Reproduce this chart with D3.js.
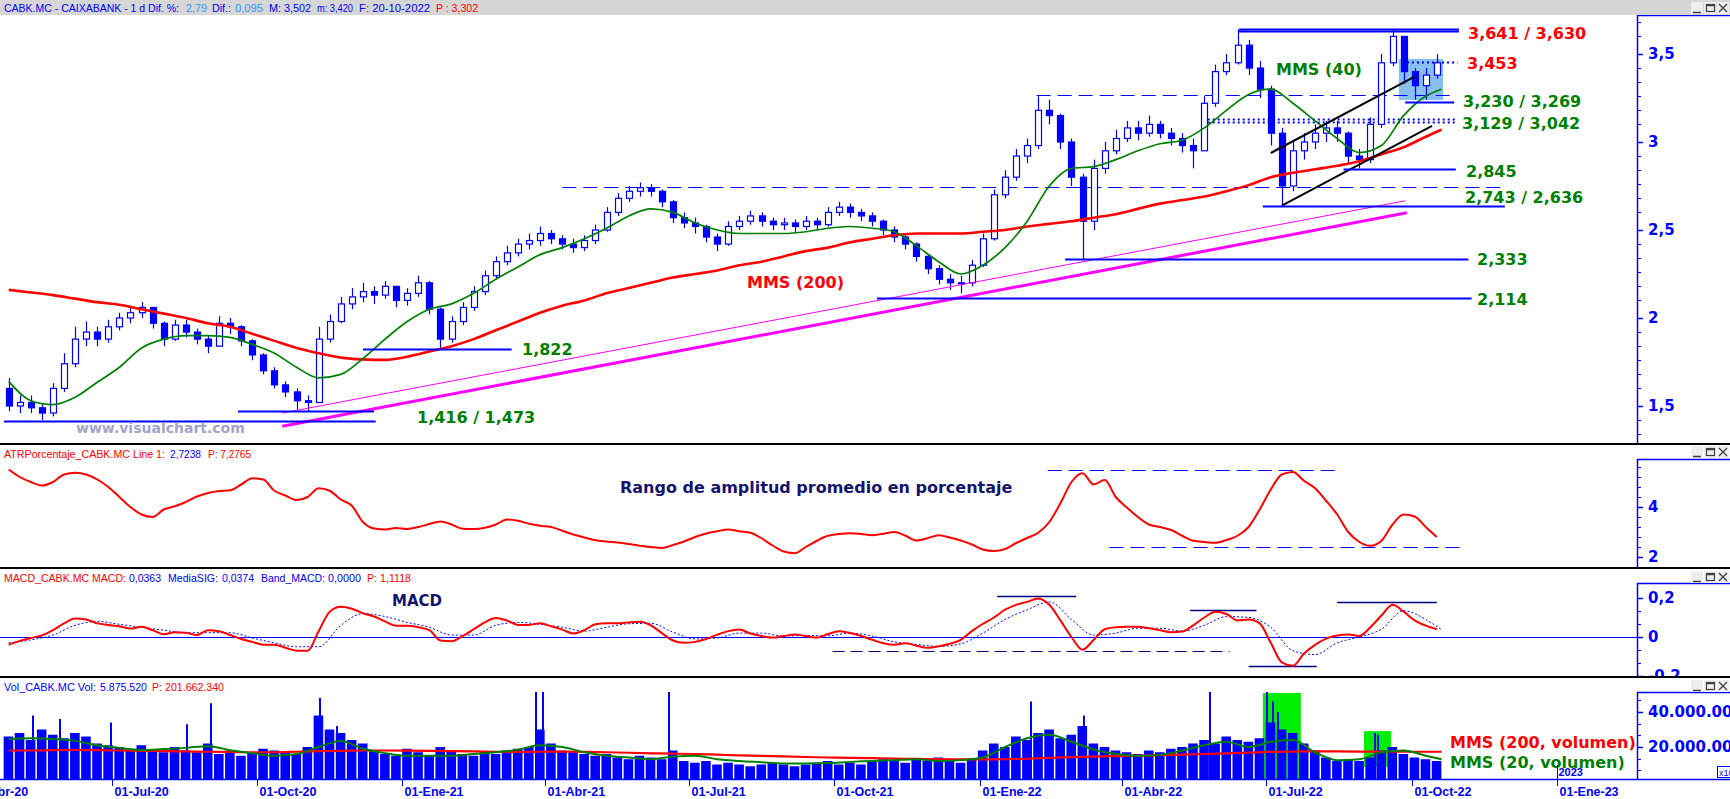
<!DOCTYPE html>
<html><head><meta charset="utf-8">
<script src="https://cdn.jsdelivr.net/npm/d3@7/dist/d3.min.js"></script>
<style>html,body{margin:0;padding:0;background:#fff;overflow:hidden}svg{display:block}</style>
</head><body>
<svg id="chart" width="1730" height="799"></svg>
<script>
// ---------------- DATA ----------------
const startWeek = "2020-04-27";
const lastDate = "2022-10-20";
const firstOpen = 1.60;
const candleClose = [
1.50,1.52,1.49,1.46,1.60,1.74,1.88,1.92,1.88,1.95,
2.00,2.03,2.06,1.97,1.88,1.96,1.92,1.88,1.84,1.97,
1.95,1.87,1.79,1.70,1.62,1.58,1.53,1.52,1.88,1.98,
2.08,2.12,2.15,2.13,2.18,2.10,2.14,2.20,2.05,1.88,
1.98,2.06,2.15,2.24,2.32,2.37,2.42,2.44,2.48,2.45,
2.42,2.40,2.44,2.50,2.60,2.68,2.72,2.74,2.72,2.66,
2.57,2.54,2.52,2.46,2.42,2.52,2.55,2.58,2.55,2.53,
2.54,2.52,2.55,2.53,2.60,2.63,2.60,2.58,2.55,2.50,
2.46,2.42,2.35,2.28,2.22,2.20,2.20,2.30,2.45,2.70,
2.80,2.92,2.98,3.18,3.15,3.00,2.80,2.55,2.85,2.95,
3.02,3.08,3.05,3.10,3.05,3.02,2.98,2.95,3.22,3.40,
3.45,3.55,3.42,3.30,3.05,2.75,2.95,3.00,3.05,3.08,
3.05,2.92,2.90,3.10,3.45,3.60,3.40,3.32,3.38,3.45];
const candleHigh = [
1.66,1.56,1.56,1.51,1.63,1.80,1.95,1.98,1.95,1.99,
2.03,2.06,2.09,2.06,1.98,1.99,1.99,1.94,1.90,2.01,
2.00,1.96,1.88,1.80,1.72,1.64,1.60,1.56,1.95,2.02,
2.12,2.17,2.20,2.18,2.21,2.18,2.17,2.24,2.21,2.06,
2.01,2.09,2.18,2.27,2.35,2.41,2.45,2.48,2.52,2.50,
2.47,2.45,2.47,2.53,2.63,2.71,2.75,2.77,2.76,2.73,
2.67,2.60,2.57,2.53,2.48,2.55,2.58,2.61,2.60,2.57,
2.57,2.56,2.58,2.57,2.63,2.66,2.65,2.62,2.60,2.56,
2.52,2.48,2.43,2.36,2.30,2.25,2.24,2.33,2.48,2.73,
2.84,2.96,3.02,3.26,3.24,3.16,3.02,2.82,2.90,3.00,
3.07,3.12,3.12,3.15,3.12,3.08,3.05,3.02,3.26,3.44,
3.50,3.64,3.58,3.46,3.32,3.08,3.00,3.05,3.10,3.12,
3.12,3.06,2.96,3.14,3.50,3.64,3.60,3.42,3.42,3.50];
const candleLow = [
1.47,1.46,1.46,1.42,1.44,1.58,1.72,1.84,1.84,1.86,
1.93,1.97,2.00,1.94,1.84,1.87,1.89,1.85,1.80,1.84,
1.91,1.84,1.76,1.68,1.60,1.55,1.48,1.47,1.52,1.86,
1.97,2.05,2.09,2.08,2.11,2.06,2.07,2.12,2.02,1.82,
1.86,1.96,2.04,2.13,2.22,2.30,2.35,2.39,2.41,2.42,
2.39,2.37,2.38,2.42,2.49,2.58,2.66,2.69,2.69,2.63,
2.54,2.51,2.48,2.43,2.38,2.41,2.50,2.53,2.52,2.50,
2.50,2.49,2.50,2.50,2.52,2.58,2.57,2.55,2.52,2.47,
2.43,2.39,2.32,2.25,2.19,2.16,2.14,2.18,2.29,2.44,
2.68,2.78,2.88,2.96,3.10,2.96,2.75,2.33,2.50,2.82,
2.93,3.00,3.01,3.03,3.02,2.98,2.94,2.85,2.95,3.20,
3.38,3.44,3.38,3.25,2.98,2.64,2.72,2.90,2.96,3.00,
3.00,2.88,2.85,2.88,3.08,3.43,3.33,3.24,3.24,3.36];
// two-week samples (last one = lastDate)
const mms40 = [
1.64,1.53,1.508,1.55,1.635,1.72,1.83,1.88,1.90,1.90,
1.89,1.85,1.80,1.72,1.66,1.68,1.77,1.88,1.98,2.05,
2.08,2.14,2.22,2.29,2.36,2.40,2.45,2.51,2.58,2.62,
2.60,2.54,2.50,2.48,2.48,2.48,2.49,2.51,2.52,2.51,
2.49,2.41,2.32,2.25,2.30,2.40,2.55,2.75,2.85,2.86,
2.90,2.95,2.99,3.01,3.08,3.18,3.27,3.30,3.22,3.12,
3.02,2.94,2.98,3.15,3.26,3.30];
const mms200 = [
2.16,2.145,2.13,2.11,2.09,2.075,2.05,2.025,2.00,1.97,
1.95,1.91,1.87,1.83,1.80,1.775,1.765,1.762,1.78,1.81,
1.84,1.88,1.93,1.98,2.03,2.07,2.10,2.14,2.17,2.20,
2.23,2.25,2.27,2.30,2.32,2.35,2.38,2.40,2.43,2.45,
2.47,2.48,2.48,2.48,2.49,2.50,2.52,2.535,2.55,2.57,
2.59,2.62,2.65,2.67,2.69,2.72,2.755,2.80,2.825,2.845,
2.865,2.89,2.93,2.97,3.03,3.07];
const atrPct = [
5.5,5.2,5.0,4.86,5.0,5.3,5.37,5.3,5.1,4.8,
4.4,4.0,3.7,3.6,3.9,4.03,4.2,4.42,4.56,4.64,
4.67,4.9,5.15,5.1,4.65,4.46,4.28,4.4,4.75,4.65,
4.3,4.05,3.4,3.14,3.1,3.16,3.12,3.2,3.32,3.42,
3.3,3.13,3.12,3.17,3.3,3.5,3.45,3.33,3.25,3.2,
3.05,2.9,2.78,2.67,2.62,2.58,2.52,2.45,2.4,2.36,
2.48,2.62,2.8,2.94,3.03,3.1,3.03,2.97,2.75,2.46,
2.22,2.15,2.4,2.65,2.85,2.92,2.95,2.92,2.87,2.93,
3.0,2.85,2.66,2.75,2.87,2.78,2.66,2.5,2.3,2.24,
2.32,2.56,2.76,2.97,3.4,4.15,5.0,5.35,4.9,5.08,
4.4,3.98,3.6,3.3,3.2,3.08,2.85,2.65,2.6,2.57,
2.68,2.85,3.2,3.9,4.7,5.3,5.4,5.05,4.75,4.25,
3.7,3.0,2.6,2.45,2.65,3.3,3.7,3.62,3.2,2.8];
const macdLine = [
-0.04,-0.02,-0.005,0.008,0.035,0.07,0.095,0.09,0.07,0.062,
0.055,0.043,0.052,0.035,0.014,0.025,0.022,0.01,0.035,0.03,
0.01,-0.01,-0.025,-0.04,-0.04,-0.055,-0.07,-0.07,0.03,0.13,
0.155,0.145,0.122,0.105,0.08,0.058,0.058,0.05,0.035,-0.018,
-0.022,0.005,0.04,0.075,0.098,0.085,0.062,0.062,0.07,0.055,
0.038,0.018,0.035,0.065,0.07,0.07,0.075,0.078,0.06,0.02,
-0.018,-0.03,-0.025,-0.01,0.012,0.03,0.038,0.018,0.005,-0.003,
0.005,0.013,0.005,-0.003,0.015,0.03,0.02,0.005,-0.014,-0.032,
-0.04,-0.032,-0.045,-0.055,-0.048,-0.035,-0.015,0.03,0.068,0.1,
0.14,0.165,0.18,0.198,0.165,0.085,0.0,-0.065,-0.015,0.04,
0.05,0.053,0.053,0.045,0.035,0.025,0.028,0.06,0.1,0.13,
0.118,0.085,0.09,0.07,-0.03,-0.13,-0.148,-0.085,-0.04,-0.008,
0.008,0.013,0.005,0.05,0.11,0.165,0.13,0.085,0.058,0.04];
const macdSignal = [
-0.03,-0.015,0.01,0.06,0.08,0.065,0.05,0.035,0.022,0.022,
0.022,-0.005,-0.03,-0.05,-0.05,0.06,0.12,0.105,0.075,0.05,
0.01,0.01,0.06,0.075,0.065,0.05,0.03,0.05,0.068,0.07,
0.025,-0.01,-0.005,0.02,0.02,0.005,0.008,0.006,0.02,0.005,
-0.025,-0.038,-0.048,-0.035,0.02,0.09,0.14,0.18,0.09,0.01,
0.02,0.045,0.045,0.03,0.06,0.105,0.1,0.05,-0.07,-0.09,
-0.03,0.0,0.04,0.135,0.09,0.037];
const volumeWeekly = [ // millions of shares, weekly level
26,28,24,30,27,25,28,26,22,21,20,
19,21,18,17,20,18,17,22,16,18,15,17,19,18,17,16,20,
38,30,28,24,22,18,
16,15,19,17,15,20,18,16,15,17,16,18,19,20,
30,22,18,
17,16,15,16,14,13,15,14,13,
18,
12,11,12,10,11,10,9,10,11,10,9,10,11,12,10,11,10,12,13,12,11,13,12,14,12,11,13,
18,22,20,26,24,28,30,25,27,32,
22,20,18,17,16,18,17,19,20,22,24,22,26,24,23,
25,34,30,28,22,18,
14,12,13,12,14,18,20,16,14,13,12];
const volSpikeDates = ["2020-05-12","2020-05-29","2020-06-30","2020-08-17","2020-09-01","2020-11-09","2020-11-20","2021-03-26","2021-03-30","2021-06-18","2022-02-02","2022-03-07","2022-05-26","2022-07-01","2022-07-05","2022-07-08","2022-09-07","2022-09-09"];
const volSpikeValues = [38,36,34,33,45,48,32,60,60,60,46,38,52,60,46,40,28,27];
const volMA200 = [
18,18,18.2,18.3,18.2,18,17.8,17.6,17.5,17.3,
17.2,17,17,17.3,17.6,17.8,18,18,17.9,17.8,
17.7,17.5,17.3,17.2,17.3,17.4,17.2,17,16.7,16.4,
16.2,16,15.6,15.2,14.9,14.6,14.3,14,13.8,13.6,
13.4,13.2,13,12.9,12.9,13,13.3,13.8,14.2,14.5,
14.8,15,15.3,15.6,16,16.4,16.8,17.2,17.4,17.5,
17.5,17.4,17.3,17.3,17.3,17.3];
const volMA20 = [
24.5,25,24.5,23.5,21,19.5,18.2,18.8,19.5,20.5,
18.2,16.5,15,16,20,23.5,19,16.5,15,15,
15,16,17,18.5,21,20,17,15,14,13,
14.5,15,13,12,11.3,10.6,10.6,10.8,11.5,12,
12.5,13,12,12.5,14,20,25,27,23,18.5,
16,15,15.5,18,21,23,20,23,24,17,
12.5,13,17,18,15,13];
// support / resistance levels
const levelValue = [3.641,3.630,3.453,3.269,3.230,3.129,3.112,2.845,2.743,2.636,2.333,2.114,1.822,1.473,1.416];
const levelFrom = ["2022-06-14","2022-06-14","2022-09-25","2022-02-06","2022-09-27","2022-05-22","2022-05-22","2022-08-19","2021-04-12","2022-06-29","2022-02-24","2021-10-28","2020-12-07","2020-09-19","2020-04-24"];
const levelTo = ["2022-10-31","2022-10-31","2022-10-30","2022-10-28","2022-10-28","2022-10-29","2022-10-29","2022-10-29","2022-11-27","2022-11-29","2022-11-06","2022-11-08","2021-03-11","2020-12-14","2020-12-15"];
const levelLabels = ["3,641 / 3,630","3,453","3,230 / 3,269","3,129 / 3,042","2,845","2,743 / 2,636","2,333","2,114","1,822","1,416 / 1,473"];
// trend lines
const trendFrom = ["2020-10-17","2020-10-17","2022-07-04","2022-07-11"];
const trendTo = ["2022-09-27","2022-09-28","2022-10-03","2022-10-14"];
const trendP0 = [1.46,1.385,2.9375,2.638];
const trendP1 = [2.666,2.598,3.371,3.091];
const zoneDates = ["2022-09-23","2022-10-21"];
const zonePrices = [3.239,3.472];
const volBoxFrom = ["2022-06-29","2022-09-01"];
const volBoxTo = ["2022-07-23","2022-09-18"];
const volBoxLow = [0,8.6];
const volBoxHigh = [50.9,29.1];
const atrLevels = [5.48,2.4];
const atrLevelFrom = ["2022-02-13","2022-03-24"];
const atrLevelTo = ["2022-08-16","2022-11-04"];
const macdLevels = [0.21,0.138,0.178,-0.15,-0.071];
const macdLevelFrom = ["2022-01-12","2022-05-14","2022-08-15","2022-06-20","2021-09-30"];
const macdLevelTo = ["2022-03-03","2022-06-25","2022-10-17","2022-08-02","2022-06-08"];
const priceTicks = [1.5,2,2.5,3,3.5];
const atrTicks = [2,4];
const macdTicks = [-0.2,0,0.2];
const volTicks = [20e6,40e6];
const monthNames = {0:"Ene",3:"Abr",6:"Jul",9:"Oct"};

// ---------------- SETUP ----------------
const BLUE="#0000ff", RED="#ff0000", GREEN="#008000", NAVY="#14146e", MAG="#ff00ff";
const svg = d3.select("#chart");
const parse = d3.timeParse("%Y-%m-%d");
const AX = 1637, W = 1730;
const x = d3.scaleTime().domain([parse("2020-10-01"), parse("2023-01-01")]).range([257,1557]);
const yP = d3.scaleLinear().domain([1.5,3.5]).range([406,54]);
const yA = d3.scaleLinear().domain([2,4]).range([557,507]);
const yM = d3.scaleLinear().domain([0,0.2]).range([637,598]);
const yV = d3.scaleLinear().domain([0,40e6]).range([782,712]);
const P = {main:[15,444], atr:[459,568], macd:[583,677], vol:[692,779]};
const w0 = parse(startWeek);
const weekDates = candleClose.map((_,i)=>d3.timeDay.offset(w0,7*i));
const biDates = mms40.map((_,k)=> k<mms40.length-1 ? d3.timeDay.offset(w0,14*k) : parse(lastDate));
const loc = d3.formatLocale({decimal:",",thousands:".",grouping:[3],currency:["","€"]});
const fmtVol = loc.format(",");
const fmtDec = v => String(Math.round(v*1000)/1000).replace(".",",");

svg.append("rect").attr("width",W).attr("height",799).attr("fill","#fff");
const defs = svg.append("defs");
Object.entries(P).forEach(([k,[t,b]])=>{
  defs.append("clipPath").attr("id","clip-"+k).append("rect").attr("x",0).attr("y",t).attr("width",AX).attr("height",b-t);
});
const gMain = svg.append("g").attr("clip-path","url(#clip-main)");
const gAtr = svg.append("g").attr("clip-path","url(#clip-atr)");
const gMacd = svg.append("g").attr("clip-path","url(#clip-macd)");
const gVol = svg.append("g").attr("clip-path","url(#clip-vol)");

// ---------------- MAIN PANEL ----------------
gMain.append("rect").attr("x",x(parse(zoneDates[0]))).attr("width",x(parse(zoneDates[1]))-x(parse(zoneDates[0])))
  .attr("y",yP(zonePrices[1])).attr("height",yP(zonePrices[0])-yP(zonePrices[1])).attr("fill","#86bff0");

const levelStyle = ["solid","solid","dotted","dashed","solid","dotted","dotted","solid","dashed","solid","solid","solid","solid","solid","solid"];
const drawLevels = (g, vals, from, to, ys, styles, col) => {
  g.selectAll(null).data(vals).join("line")
    .attr("x1",(d,i)=>x(parse(from[i]))).attr("x2",(d,i)=>x(parse(to[i])))
    .attr("y1",d=>Math.round(ys(d))+0.5).attr("y2",d=>Math.round(ys(d))+0.5)
    .attr("stroke",col)
    .attr("stroke-width",(d,i)=>styles[i]==="solid"?2:(styles[i]==="dotted"?2:1))
    .attr("stroke-dasharray",(d,i)=>styles[i]==="dashed"?"14,7":(styles[i]==="dotted"?"2,3":null));
};
const idxBack = levelValue.map((v,i)=>i).filter(i=>levelStyle[i]!=="solid");
drawLevels(gMain, idxBack.map(i=>levelValue[i]), idxBack.map(i=>levelFrom[i]), idxBack.map(i=>levelTo[i]), yP, idxBack.map(i=>levelStyle[i]), BLUE);

// candles
const cw = 6;
const candles = gMain.append("g").selectAll("g").data(weekDates).join("g");
candles.append("line")
  .attr("x1",d=>Math.round(x(d))+0.5).attr("x2",d=>Math.round(x(d))+0.5)
  .attr("y1",(d,i)=>yP(candleHigh[i])).attr("y2",(d,i)=>yP(candleLow[i]))
  .attr("stroke",BLUE).attr("stroke-width",1.2);
candles.append("rect")
  .attr("x",d=>Math.round(x(d))-cw/2+0.5)
  .attr("y",(d,i)=>{const o=i?candleClose[i-1]:firstOpen;return yP(Math.max(o,candleClose[i]));})
  .attr("width",cw)
  .attr("height",(d,i)=>{const o=i?candleClose[i-1]:firstOpen;return Math.max(1,Math.abs(yP(o)-yP(candleClose[i])));})
  .attr("fill",(d,i)=>{const o=i?candleClose[i-1]:firstOpen;return candleClose[i]>=o?"#fff":BLUE;})
  .attr("stroke",BLUE).attr("stroke-width",1.2);

const lineP = (arr)=>d3.line().x((d,i)=>x(biDates[i])).y(d=>yP(d)).curve(d3.curveMonotoneX)(arr);
gMain.append("path").attr("d",lineP(mms200)).attr("fill","none").attr("stroke",RED).attr("stroke-width",2.6);
gMain.append("path").attr("d",lineP(mms40)).attr("fill","none").attr("stroke",GREEN).attr("stroke-width",1.7);

const trendColor=[MAG,MAG,"#000","#000"], trendW=[1,3,2,2];
gMain.selectAll(null).data(trendP0).join("line")
  .attr("x1",(d,i)=>x(parse(trendFrom[i]))).attr("y1",d=>yP(d))
  .attr("x2",(d,i)=>x(parse(trendTo[i]))).attr("y2",(d,i)=>yP(trendP1[i]))
  .attr("stroke",(d,i)=>trendColor[i]).attr("stroke-width",(d,i)=>trendW[i]);

const idxFront = levelValue.map((v,i)=>i).filter(i=>levelStyle[i]==="solid");
drawLevels(gMain, idxFront.map(i=>levelValue[i]), idxFront.map(i=>levelFrom[i]), idxFront.map(i=>levelTo[i]), yP, idxFront.map(i=>"solid"), BLUE);

const LBL = "bold 16px 'DejaVu Sans'";
const labelPos = [[1468,33,RED],[1467,63,RED],[1463,101,GREEN],[1462,123,GREEN],[1466,171,GREEN],[1465,197,GREEN],[1477,259,GREEN],[1477,299,GREEN],[522,349,GREEN],[417,417,GREEN]];
svg.selectAll(null).data(levelLabels).join("text")
  .attr("x",(d,i)=>labelPos[i][0]).attr("y",(d,i)=>labelPos[i][1]).attr("dy","0.36em")
  .attr("fill",(d,i)=>labelPos[i][2]).style("font",LBL).text(d=>d);
const txt = (x0,y0,t,col,font)=>svg.append("text").attr("x",x0).attr("y",y0).attr("dy","0.36em").attr("fill",col).style("font",font).text(t);
txt(1276,69,"MMS (40)",GREEN,LBL);
txt(747,282,"MMS (200)",RED,LBL);
txt(76,428,"www.visualchart.com","#a4a4cc","bold 14px 'DejaVu Sans'");

// ---------------- ATR ----------------
drawLevels(gAtr, atrLevels, atrLevelFrom, atrLevelTo, yA, ["dashed","dashed"], BLUE);
gAtr.append("path").attr("d",d3.line().x((d,i)=>x(weekDates[i])).y(d=>yA(d)).curve(d3.curveMonotoneX)(atrPct))
  .attr("fill","none").attr("stroke",RED).attr("stroke-width",2);
txt(620,487,"Rango de amplitud promedio en porcentaje",NAVY,LBL);

// ---------------- MACD ----------------
gMacd.append("line").attr("x1",0).attr("x2",AX).attr("y1",yM(0)+0.5).attr("y2",yM(0)+0.5).attr("stroke",BLUE).attr("stroke-width",1);
gMacd.selectAll(null).data(macdLevels).join("line")
  .attr("x1",(d,i)=>x(parse(macdLevelFrom[i]))).attr("x2",(d,i)=>x(parse(macdLevelTo[i])))
  .attr("y1",d=>Math.round(yM(d))+0.5).attr("y2",d=>Math.round(yM(d))+0.5)
  .attr("stroke","#000080").attr("stroke-width",(d,i)=>i<4?1.5:1)
  .attr("stroke-dasharray",(d,i)=>i<4?null:"12,6");
gMacd.append("path").attr("d",d3.line().x((d,i)=>x(biDates[i])).y(d=>yM(d)).curve(d3.curveMonotoneX)(macdSignal))
  .attr("fill","none").attr("stroke",BLUE).attr("stroke-width",1).attr("stroke-dasharray","2,2");
gMacd.append("path").attr("d",d3.line().x((d,i)=>x(weekDates[i])).y(d=>yM(d)).curve(d3.curveMonotoneX)(macdLine))
  .attr("fill","none").attr("stroke",RED).attr("stroke-width",2);
txt(392,601,"MACD",NAVY,"bold 15px 'DejaVu Sans'");

// ---------------- VOLUME ----------------
gVol.selectAll(null).data(volBoxFrom).join("rect")
  .attr("x",d=>x(parse(d))).attr("width",(d,i)=>x(parse(volBoxTo[i]))-x(parse(d)))
  .attr("y",(d,i)=>yV(volBoxHigh[i]*1e6)).attr("height",(d,i)=>yV(volBoxLow[i]*1e6)-yV(volBoxHigh[i]*1e6))
  .attr("fill","#00ee00");
const slot = x(d3.timeDay.offset(w0,7))-x(w0);
gVol.selectAll(null).data(volumeWeekly).join("rect")
  .attr("x",(d,i)=>x(weekDates[i])-slot/2+0.5).attr("width",slot-1.5)
  .attr("y",d=>yV(d*1e6)).attr("height",d=>782-yV(d*1e6)).attr("fill",BLUE);
gVol.selectAll(null).data(volSpikeValues).join("rect")
  .attr("x",(d,i)=>Math.round(x(parse(volSpikeDates[i])))).attr("width",2)
  .attr("y",d=>yV(d*1e6)).attr("height",d=>782-yV(d*1e6)).attr("fill",BLUE);
const lineV = arr=>d3.line().x((d,i)=>x(biDates[i])).y(d=>yV(d*1e6)).curve(d3.curveMonotoneX)(arr);
gVol.append("path").attr("d",lineV(volMA200)).attr("fill","none").attr("stroke",RED).attr("stroke-width",2.2);
gVol.append("path").attr("d",lineV(volMA20)).attr("fill","none").attr("stroke",GREEN).attr("stroke-width",2);
txt(1450,742,"MMS (200, volumen)",RED,LBL);
txt(1450,762,"MMS (20, volumen)",GREEN,LBL);

// ---------------- AXES / FRAME ----------------
const AXF = "bold 15px 'DejaVu Sans'";
function rightAxis(scale, top, bottom, majors, minors, fmt){
  const g = svg.append("g");
  g.append("line").attr("x1",AX+0.5).attr("x2",AX+0.5).attr("y1",top).attr("y2",bottom).attr("stroke",BLUE).attr("stroke-width",1.5);
  g.append("line").attr("x1",AX).attr("x2",W).attr("y1",top+0.5).attr("y2",top+0.5).attr("stroke",BLUE).attr("stroke-width",1.5);
  minors.filter(v=>scale(v)>top+2&&scale(v)<bottom-1).forEach(v=>{
    g.append("line").attr("x1",AX).attr("x2",AX+4).attr("y1",Math.round(scale(v))+0.5).attr("y2",Math.round(scale(v))+0.5).attr("stroke",BLUE);
  });
  majors.forEach(v=>{
    const yy=Math.round(scale(v))+0.5;
    g.append("line").attr("x1",AX).attr("x2",AX+6).attr("y1",yy).attr("y2",yy).attr("stroke",BLUE).attr("stroke-width",1.5);
  });
  defs.append("clipPath").attr("id","ax"+top).append("rect").attr("x",AX).attr("y",top).attr("width",W-AX).attr("height",bottom-top);
  const gl = g.append("g").attr("clip-path","url(#ax"+top+")");
  majors.forEach(v=>{
    gl.append("text").attr("x",AX+11).attr("y",scale(v)).attr("dy","0.36em").attr("fill",BLUE).style("font",AXF).text(fmt(v));
  });
}
const minorsBelow = (majors, step, n)=>majors.flatMap(m=>d3.range(1,n+1).map(j=>m-step*j));
rightAxis(yP,15,444,priceTicks,minorsBelow([1.5,2,2.5,3,3.5,4],0.08,5),fmtDec);
rightAxis(yA,459,568,atrTicks,minorsBelow([2,4,6],0.4,4),v=>String(v));
rightAxis(yM,583,677,macdTicks,[-0.2,0,0.2,0.4].flatMap(m=>[m-0.2/3,m-0.4/3]),fmtDec);
rightAxis(yV,692,779,volTicks,[0,20e6,40e6,60e6].flatMap(m=>[m-20e6/3,m-40e6/3]),fmtVol);

svg.append("rect").attr("x",1717.5).attr("y",766.5).attr("width",13).attr("height",11).attr("fill","#fff").attr("stroke",BLUE);
svg.append("text").attr("x",1719).attr("y",775.5).attr("fill",BLUE).style("font","9px 'Liberation Sans'").text("x10");

// x axis
svg.append("line").attr("x1",0).attr("x2",W).attr("y1",779.5).attr("y2",779.5).attr("stroke",BLUE).attr("stroke-width",1.5);
const qTicks = d3.timeMonth.every(3).range(parse("2020-04-01"), parse("2023-01-02"));
const gx = svg.append("g");
qTicks.forEach(d=>{
  const xx = Math.round(x(d))+0.5;
  gx.append("line").attr("x1",xx).attr("x2",xx).attr("y1",779).attr("y2",786).attr("stroke",BLUE);
  gx.append("text").attr("x",xx+2).attr("y",796).attr("fill",BLUE).style("font","bold 12.5px 'Liberation Sans'")
    .text("01-"+monthNames[d.getMonth()]+"-"+String(d.getFullYear()).slice(2));
});
const x23 = Math.round(x(parse("2023-01-01")))+0.5;
gx.append("line").attr("x1",x23).attr("x2",x23).attr("y1",765).attr("y2",779).attr("stroke",BLUE);
gx.append("text").attr("x",x23+1).attr("y",776).attr("fill",BLUE).style("font","bold 11px 'Liberation Sans'").text("2023");

// separators
[444,568,677].forEach(yy=>svg.append("line").attr("x1",0).attr("x2",W).attr("y1",yy).attr("y2",yy).attr("stroke","#000").attr("stroke-width",2));

// header bar & panel titles (segments fitted to measured widths)
svg.append("rect").attr("x",0).attr("y",0).attr("width",W).attr("height",15).attr("fill","#d6d6d6");
const HF = "11px 'Liberation Sans'";
function seg(x0, x1, yy, t, col){
  svg.append("text").attr("x",x0).attr("y",yy).attr("dy","0.36em").attr("fill",col).style("font",HF)
    .attr("textLength",x1-x0).attr("lengthAdjust","spacingAndGlyphs").text(t);
}
const header = [[4,179,"CABK.MC - CAIXABANK -  1 d  Dif. %:",BLUE],[186,207,"2,79","#3399ff"],[212,231,"Dif.:",BLUE],[235,263,"0,095","#3399ff"],[269,311,"M: 3,502",BLUE],[317,353,"m: 3,420",BLUE],[359,430,"F: 20-10-2022",BLUE],[436,478,"P : 3,302",RED]];
header.forEach(h=>seg(h[0],h[1],8,h[2],h[3]));
const subHeaders = [
 [454,[[4,165,"ATRPorcentaje_CABK.MC  Line 1:",RED],[170,201,"2,7238",BLUE],[208,251,"P: 7,2765",RED]]],
 [578,[[4,126,"MACD_CABK.MC  MACD:",RED],[129,161,"0,0363",BLUE],[168,218,"MediaSIG:",BLUE],[222,254,"0,0374",BLUE],[261,325,"Band_MACD:",BLUE],[328,361,"0,0000",BLUE],[367,411,"P: 1,1118",RED]]],
 [687,[[4,96,"Vol_CABK.MC  Vol:",BLUE],[100,147,"5.875.520",BLUE],[152,224,"P: 201.662.340",RED]]]];
subHeaders.forEach(([yy,segs])=>segs.forEach(s=>seg(s[0],s[1],yy,s[2],s[3])));

// window buttons
function buttons(cy){
  const g=svg.append("g");
  [1691,1704,1717].forEach(bx=>g.append("rect").attr("x",bx).attr("y",cy-6).attr("width",12).attr("height",12).attr("fill","#eeeeee"));
  const gs=g.append("g").attr("stroke","#404040").attr("fill","none");
  gs.append("line").attr("x1",1693).attr("x2",1701).attr("y1",cy+4.5).attr("y2",cy+4.5).attr("stroke-width",1.5);
  gs.append("rect").attr("x",1706.5).attr("y",cy-3.5).attr("width",8).attr("height",7).attr("stroke-width",1.2);
  gs.append("line").attr("x1",1706.5).attr("x2",1714.5).attr("y1",cy-2.5).attr("y2",cy-2.5).attr("stroke-width",1.5);
  gs.append("path").attr("d",`M1719,${cy-4}L1727,${cy+4}M1727,${cy-4}L1719,${cy+4}`).attr("stroke-width",1.3);
}
[8,452,577,686].forEach(buttons);
</script></body></html>
